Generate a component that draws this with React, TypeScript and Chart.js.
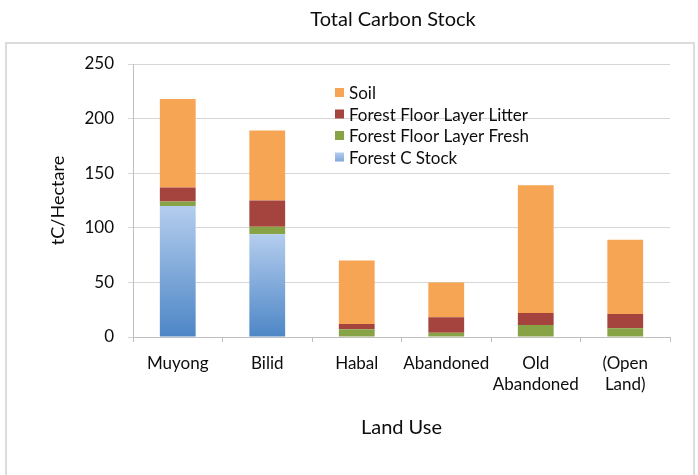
import React, { useEffect, useRef } from "react";
import { Chart, registerables } from "chart.js";

Chart.register(...registerables);

const titleText = "Total Carbon Stock";
const categories: (string | string[])[] = [
  "Muyong",
  "Bilid",
  "Habal",
  "Abandoned",
  ["Old", "Abandoned"],
  ["(Open", "Land)"],
];
const forestCStock = [120, 94, 0, 0, 0, 0];
const floorFresh = [4, 7, 7, 4, 11, 8];
const floorLitter = [13, 24, 5, 14, 11, 13];
const soil = [81, 64, 58, 32, 117, 68];
const yTickMax = 250;
const yTickStep = 50;

const FONT = "Lato, 'Open Sans', sans-serif";
const TEXT_C = "#0d0d0d";
const SOIL_C = "#F6A555";
const LITTER_C = "#A5443F";
const FRESH_C = "#87A346";
const BLUE_DARK = "#4D86C6";
const BLUE_LIGHT = "#B4CDEE";

const overlayPlugin = {
  id: "overlay",
  afterDraw(chart: any) {
    const { ctx, chartArea } = chart;
    ctx.save();
    // title
    ctx.font = `20px ${FONT}`;
    ctx.fillStyle = TEXT_C;
    ctx.textAlign = "center";
    ctx.textBaseline = "middle";
    ctx.fillText(titleText, chartArea.left + 260, 20);

    // legend
    const items = [...chart.data.datasets].reverse();
    ctx.font = `17px ${FONT}`;
    ctx.textAlign = "left";
    const x0 = chartArea.left + 202;
    items.forEach((ds: any, i: number) => {
      const y = chartArea.top + 29 + i * 21.5;
      if (ds.legendSwatch === "gradient") {
        const g = ctx.createLinearGradient(0, y - 5, 0, y + 4);
        g.addColorStop(0, BLUE_LIGHT);
        g.addColorStop(1, "#7FA7DA");
        ctx.fillStyle = g;
      } else {
        ctx.fillStyle = ds.legendSwatch;
      }
      ctx.fillRect(x0, y - 5, 9, 9);
      ctx.fillStyle = TEXT_C;
      ctx.fillText(ds.label, x0 + 14, y + 1);
    });
    ctx.restore();
  },
};

export default function App() {
  const ref = useRef<HTMLCanvasElement | null>(null);
  useEffect(() => {
    if (!ref.current) return;
    const chart = new Chart(ref.current, {
      type: "bar",
      data: {
        labels: categories,
        datasets: [
          {
            label: "Forest C Stock",
            data: forestCStock,
            legendSwatch: "gradient",
            backgroundColor: (c: any) => {
              const ch = c.chart;
              const area = ch.chartArea;
              if (!area || c.raw === undefined) return BLUE_DARK;
              const yScale = ch.scales.y;
              const top = yScale.getPixelForValue(c.raw);
              if (!isFinite(top) || top >= area.bottom - 1) return BLUE_DARK;
              const g = ch.ctx.createLinearGradient(0, area.bottom, 0, top);
              g.addColorStop(0, BLUE_DARK);
              g.addColorStop(1, BLUE_LIGHT);
              return g;
            },
          } as any,
          { label: "Forest Floor Layer Fresh", data: floorFresh, backgroundColor: FRESH_C, legendSwatch: FRESH_C } as any,
          { label: "Forest Floor Layer Litter", data: floorLitter, backgroundColor: LITTER_C, legendSwatch: LITTER_C } as any,
          { label: "Soil", data: soil, backgroundColor: SOIL_C, legendSwatch: SOIL_C } as any,
        ],
      },
      options: {
        responsive: false,
        animation: false,
        layout: { padding: { left: 0, right: 28, top: 64, bottom: 0 } },
        datasets: { bar: { categoryPercentage: 1, barPercentage: 0.4 } },
        plugins: {
          legend: { display: false },
          tooltip: { enabled: false },
          title: { display: false },
        },
        scales: {
          x: {
            stacked: true,
            grid: { display: true, drawOnChartArea: false, offset: true, tickLength: 5, color: "#BFBFBF" },
            border: { color: "#BFBFBF" },
            ticks: {
              color: TEXT_C,
              font: { family: FONT, size: 17, lineHeight: 1.25 },
              padding: 11,
              maxRotation: 0,
              autoSkip: false,
            },
            title: {
              display: true,
              text: "Land Use",
              color: TEXT_C,
              font: { family: FONT, size: 20 },
              padding: { top: 4, bottom: 35 },
            },
            afterFit: (s: any) => {
              s.height = 138;
            },
          },
          y: {
            stacked: true,
            min: 0,
            max: yTickMax,
            ticks: {
              stepSize: yTickStep,
              color: TEXT_C,
              font: { family: FONT, size: 17 },
              padding: 14,
            },
            grid: { color: "#D6D6D6", tickLength: 5 },
            border: { color: "#BFBFBF" },
            title: {
              display: true,
              text: "tC/Hectare",
              color: TEXT_C,
              font: { family: FONT, size: 18 },
              padding: { top: 47, bottom: 0 },
            },
            afterFit: (s: any) => {
              s.width = 133;
            },
          },
        },
      } as any,
      plugins: [overlayPlugin],
    });
    return () => chart.destroy();
  }, []);

  return (
    <div style={{ position: "absolute", left: 0, top: 0, width: 698, height: 475, background: "#fff", overflow: "hidden" }}>
      <div
        style={{
          position: "absolute",
          left: 5,
          top: 42,
          width: 690,
          height: 460,
          border: "2px solid #DCDCDC",
          boxSizing: "border-box",
        }}
      />
      <canvas ref={ref} width={698} height={475} style={{ position: "absolute", left: 0, top: 0 }} />
    </div>
  );
}
